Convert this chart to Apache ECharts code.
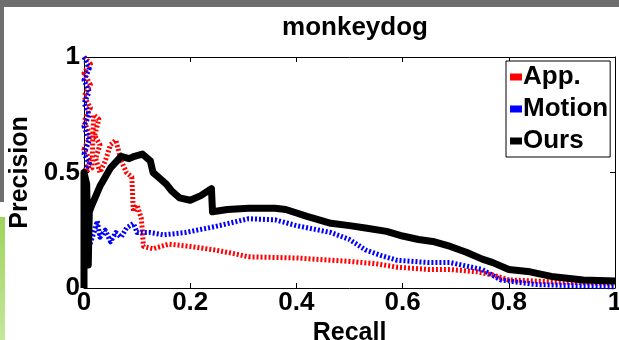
<!DOCTYPE html>
<html>
<head>
<meta charset="utf-8">
<script src="https://cdn.jsdelivr.net/npm/echarts@6/dist/echarts.min.js"></script>
<style>
  html, body { margin: 0; padding: 0; background: #fff; }
  #chart { width: 619px; height: 340px; }
</style>
</head>
<body>
<div id="chart"></div>
<script>
// precision / recall, [recall, precision]
var seriesNames = ['App.', 'Motion', 'Ours'];
var seriesColors = ['#ff0000', '#0000ff', '#000000'];
var xTicks = [0, 0.2, 0.4, 0.6, 0.8, 1];
var yTicks = [0, 0.5, 1];

var appData = [
  [0, 1], [0.012, 0.97], [0, 0.93], [0.012, 0.88], [0, 0.83], [0.012, 0.78], [0, 0.72],
  [0.012, 0.66], [0, 0.6], [0.012, 0.55], [0, 0.5], [0.015, 0.52], [0.018, 0.75],
  [0.028, 0.73], [0.02, 0.66], [0.03, 0.62], [0.022, 0.56], [0.03, 0.5],
  [0.04, 0.55], [0.05, 0.62], [0.06, 0.64], [0.07, 0.55], [0.08, 0.5],
  [0.09, 0.48], [0.093, 0.33], [0.1, 0.36], [0.108, 0.3], [0.112, 0.18], [0.13, 0.17],
  [0.16, 0.19], [0.2, 0.18], [0.245, 0.165], [0.28, 0.15], [0.31, 0.135], [0.4, 0.13],
  [0.5, 0.115], [0.55, 0.105], [0.59, 0.09], [0.65, 0.08], [0.69, 0.08], [0.74, 0.07],
  [0.77, 0.056], [0.8, 0.035], [0.9, 0.025], [1, 0.02]
];
var motionData = [
  [0, 1], [0.01, 0.95], [0, 0.9], [0.01, 0.85], [0, 0.8], [0.01, 0.75], [0, 0.7],
  [0.01, 0.64], [0, 0.58], [0.01, 0.54], [0, 0.5], [0.005, 0.12], [0.01, 0.18],
  [0.02, 0.25], [0.025, 0.29], [0.03, 0.22], [0.04, 0.25], [0.05, 0.2], [0.06, 0.24],
  [0.07, 0.22], [0.08, 0.26], [0.093, 0.28], [0.1, 0.24], [0.125, 0.24], [0.15, 0.23],
  [0.19, 0.24], [0.245, 0.265], [0.31, 0.3], [0.36, 0.295], [0.4, 0.27], [0.465, 0.24],
  [0.5, 0.21], [0.53, 0.165], [0.56, 0.14], [0.59, 0.12], [0.65, 0.11], [0.69, 0.11],
  [0.75, 0.08], [0.785, 0.035], [0.85, 0.015], [1, 0.005]
];
var oursData = [
  [0, 0], [0, 0.5], [0.005, 0.45], [0.008, 0.1], [0.01, 0.33], [0.015, 0.36], [0.03, 0.44],
  [0.05, 0.52], [0.07, 0.57], [0.085, 0.56], [0.095, 0.57], [0.11, 0.58], [0.125, 0.55],
  [0.13, 0.5], [0.14, 0.48], [0.155, 0.45], [0.165, 0.42], [0.18, 0.39], [0.2, 0.38],
  [0.22, 0.4], [0.24, 0.43], [0.242, 0.33], [0.27, 0.34], [0.31, 0.345], [0.36, 0.345],
  [0.38, 0.34], [0.42, 0.31], [0.465, 0.28], [0.5, 0.27], [0.53, 0.26], [0.57, 0.245],
  [0.6, 0.225], [0.63, 0.21], [0.66, 0.2], [0.69, 0.18], [0.72, 0.155], [0.75, 0.125],
  [0.77, 0.11], [0.8, 0.08], [0.84, 0.07], [0.88, 0.05], [0.94, 0.035], [1, 0.03]
];

var font = 'Liberation Sans, Arial, Helvetica, sans-serif';
var chart = echarts.init(document.getElementById('chart'), null, {renderer: 'canvas'});

function axisBase(show) {
  return {
    type: 'value', min: 0, max: 1,
    axisLine: {show: true, onZero: false, lineStyle: {color: '#000', width: 1}},
    axisTick: {show: true, inside: true, length: 5, lineStyle: {color: '#000'}},
    splitLine: {show: false},
    axisLabel: {show: show, color: '#000', fontFamily: font, fontSize: 26, fontWeight: 'bold'}
  };
}

var xBottom = axisBase(true);
xBottom.position = 'bottom';
xBottom.interval = xTicks[1] - xTicks[0];
xBottom.axisLabel.margin = 2;
xBottom.name = 'Recall';
xBottom.nameLocation = 'middle';
xBottom.nameGap = 23;
xBottom.nameTextStyle = {color: '#000', fontFamily: font, fontSize: 25, fontWeight: 'bold'};
var xTop = axisBase(false);
xTop.position = 'top';
xTop.interval = xTicks[1] - xTicks[0];

var yLeft = axisBase(true);
yLeft.position = 'left';
yLeft.interval = yTicks[1] - yTicks[0];
yLeft.axisLabel.margin = 4;
yLeft.name = 'Precision';
yLeft.nameLocation = 'middle';
yLeft.nameGap = 49;
yLeft.nameTextStyle = {color: '#000', fontFamily: font, fontSize: 25, fontWeight: 'bold'};
var yRight = axisBase(false);
yRight.position = 'right';
yRight.interval = yTicks[1] - yTicks[0];

var allData = [appData, motionData, oursData];
var series = seriesNames.map(function (name, i) {
  var dashed = i < 2;
  return {
    name: name,
    type: 'line',
    data: allData[i],
    showSymbol: false,
    symbol: 'none',
    animation: false,
    lineStyle: {
      color: seriesColors[i],
      width: dashed ? 5 : 7,
      type: dashed ? [2, 2] : 'solid',
      join: 'round'
    },
    itemStyle: {color: seriesColors[i]}
  };
});

chart.setOption({
  animation: false,
  backgroundColor: '#fff',
  title: {
    text: 'monkeydog',
    left: 350, textAlign: 'center', top: 10,
    textStyle: {color: '#000', fontFamily: font, fontSize: 26, fontWeight: 'bold'}
  },
  grid: {left: 84, right: 4, top: 57, bottom: 52, containLabel: false, outerBoundsMode: 'none'},
  xAxis: [xBottom, xTop],
  yAxis: [yLeft, yRight],
  legend: {
    orient: 'vertical',
    left: 506, top: 61,
    width: 106,
    padding: [3, 2, 3, 4],
    itemGap: 6,
    itemWidth: 12, itemHeight: 7,
    icon: 'rect',
    borderColor: '#000', borderWidth: 1,
    backgroundColor: '#fff',
    textStyle: {color: '#000', fontFamily: font, fontSize: 26, fontWeight: 'bold', padding: [0, 0, 0, -4]},
    data: seriesNames
  },
  graphic: [
    {type: 'rect', shape: {x: 0, y: 0, width: 619, height: 7}, style: {fill: '#6e6e6e'}, silent: true},
    {type: 'rect', shape: {x: 0, y: 0, width: 4, height: 202}, style: {fill: '#6e6e6e'}, silent: true},
    {type: 'rect', shape: {x: 0, y: 217, width: 5, height: 123},
      style: {fill: new echarts.graphic.LinearGradient(0, 0, 0, 1, [
        {offset: 0, color: '#9ed45c'}, {offset: 1, color: '#c4e79a'}])}, silent: true}
  ],
  series: series
});
</script>
</body>
</html>
